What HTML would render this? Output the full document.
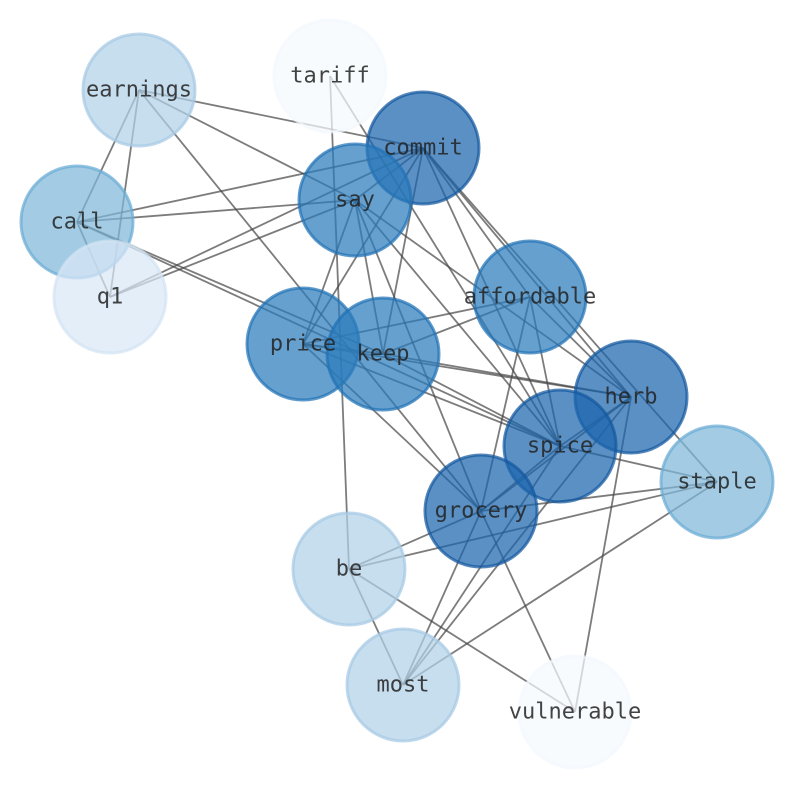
<!DOCTYPE html>
<html><head><meta charset="utf-8"><style>
html,body{margin:0;padding:0;background:#fff;}
svg{display:block;}
text{font-family:"DejaVu Sans Mono","Liberation Mono",monospace;font-size:22px;fill:#222;fill-opacity:0.85;text-anchor:middle;dominant-baseline:central;}
</style></head><body>
<svg width="794" height="790" viewBox="0 0 794 790" xmlns="http://www.w3.org/2000/svg">
<g stroke="#444" stroke-opacity="0.7" stroke-width="1.8" fill="none">
<line x1="139" y1="90" x2="77" y2="222"/>
<line x1="139" y1="90" x2="110" y2="297"/>
<line x1="139" y1="90" x2="423" y2="148"/>
<line x1="139" y1="90" x2="355" y2="200"/>
<line x1="139" y1="90" x2="481" y2="511"/>
<line x1="330" y1="76" x2="349" y2="569"/>
<line x1="330" y1="76" x2="560" y2="446"/>
<line x1="77" y1="222" x2="355" y2="200"/>
<line x1="77" y1="222" x2="423" y2="148"/>
<line x1="77" y1="222" x2="110" y2="297"/>
<line x1="77" y1="222" x2="383" y2="354"/>
<line x1="77" y1="222" x2="560" y2="446"/>
<line x1="110" y1="297" x2="355" y2="200"/>
<line x1="110" y1="297" x2="423" y2="148"/>
<line x1="423" y1="148" x2="355" y2="200"/>
<line x1="423" y1="148" x2="303" y2="344"/>
<line x1="423" y1="148" x2="383" y2="354"/>
<line x1="423" y1="148" x2="560" y2="446"/>
<line x1="423" y1="148" x2="631" y2="397"/>
<line x1="423" y1="148" x2="717" y2="482"/>
<line x1="423" y1="148" x2="530" y2="297"/>
<line x1="355" y1="200" x2="303" y2="344"/>
<line x1="355" y1="200" x2="383" y2="354"/>
<line x1="355" y1="200" x2="481" y2="511"/>
<line x1="355" y1="200" x2="631" y2="397"/>
<line x1="355" y1="200" x2="560" y2="446"/>
<line x1="303" y1="344" x2="530" y2="297"/>
<line x1="303" y1="344" x2="383" y2="354"/>
<line x1="303" y1="344" x2="560" y2="446"/>
<line x1="303" y1="344" x2="631" y2="397"/>
<line x1="303" y1="344" x2="481" y2="511"/>
<line x1="383" y1="354" x2="530" y2="297"/>
<line x1="383" y1="354" x2="631" y2="397"/>
<line x1="383" y1="354" x2="560" y2="446"/>
<line x1="530" y1="297" x2="481" y2="511"/>
<line x1="530" y1="297" x2="560" y2="446"/>
<line x1="530" y1="297" x2="631" y2="397"/>
<line x1="631" y1="397" x2="560" y2="446"/>
<line x1="631" y1="397" x2="481" y2="511"/>
<line x1="631" y1="397" x2="403" y2="685"/>
<line x1="631" y1="397" x2="575" y2="712"/>
<line x1="560" y1="446" x2="717" y2="482"/>
<line x1="560" y1="446" x2="481" y2="511"/>
<line x1="560" y1="446" x2="403" y2="685"/>
<line x1="717" y1="482" x2="481" y2="511"/>
<line x1="717" y1="482" x2="349" y2="569"/>
<line x1="717" y1="482" x2="403" y2="685"/>
<line x1="481" y1="511" x2="349" y2="569"/>
<line x1="481" y1="511" x2="403" y2="685"/>
<line x1="481" y1="511" x2="575" y2="712"/>
<line x1="349" y1="569" x2="403" y2="685"/>
<line x1="349" y1="569" x2="575" y2="712"/>
</g>
<g stroke-width="3" fill-opacity="0.72" stroke-opacity="0.72">
<circle cx="330" cy="76" r="56" fill="#f5f9fe" stroke="#f3f8fd"/>
<circle cx="139" cy="90" r="56" fill="#b2d1e8" stroke="#a6c9e4"/>
<circle cx="77" cy="222" r="56" fill="#7fb8da" stroke="#6aaad4"/>
<circle cx="110" cy="297" r="56" fill="#dae8f6" stroke="#d2e3f3"/>
<circle cx="423" cy="148" r="56" fill="#1c65ad" stroke="#14589e"/>
<circle cx="355" cy="200" r="56" fill="#2b7bbb" stroke="#2171b5"/>
<circle cx="530" cy="297" r="56" fill="#2b7bbb" stroke="#2171b5"/>
<circle cx="303" cy="344" r="56" fill="#2b7bbb" stroke="#2171b5"/>
<circle cx="383" cy="354" r="56" fill="#2b7bbb" stroke="#2171b5"/>
<circle cx="631" cy="397" r="56" fill="#1c65ad" stroke="#14589e"/>
<circle cx="560" cy="446" r="56" fill="#1c65ad" stroke="#14589e"/>
<circle cx="717" cy="482" r="56" fill="#7fb8da" stroke="#6aaad4"/>
<circle cx="481" cy="511" r="56" fill="#1c65ad" stroke="#14589e"/>
<circle cx="349" cy="569" r="56" fill="#b2d1e8" stroke="#a6c9e4"/>
<circle cx="403" cy="685" r="56" fill="#b2d1e8" stroke="#a6c9e4"/>
<circle cx="575" cy="712" r="56" fill="#f5f9fe" stroke="#f3f8fd"/>
</g>
<g>
<text x="330" y="76">tariff</text>
<text x="139" y="90">earnings</text>
<text x="77" y="222">call</text>
<text x="110" y="297">q1</text>
<text x="423" y="148">commit</text>
<text x="355" y="200">say</text>
<text x="530" y="297">affordable</text>
<text x="303" y="344">price</text>
<text x="383" y="354">keep</text>
<text x="631" y="397">herb</text>
<text x="560" y="446">spice</text>
<text x="717" y="482">staple</text>
<text x="481" y="511">grocery</text>
<text x="349" y="569">be</text>
<text x="403" y="685">most</text>
<text x="575" y="712">vulnerable</text>
</g>
</svg>
</body></html>
